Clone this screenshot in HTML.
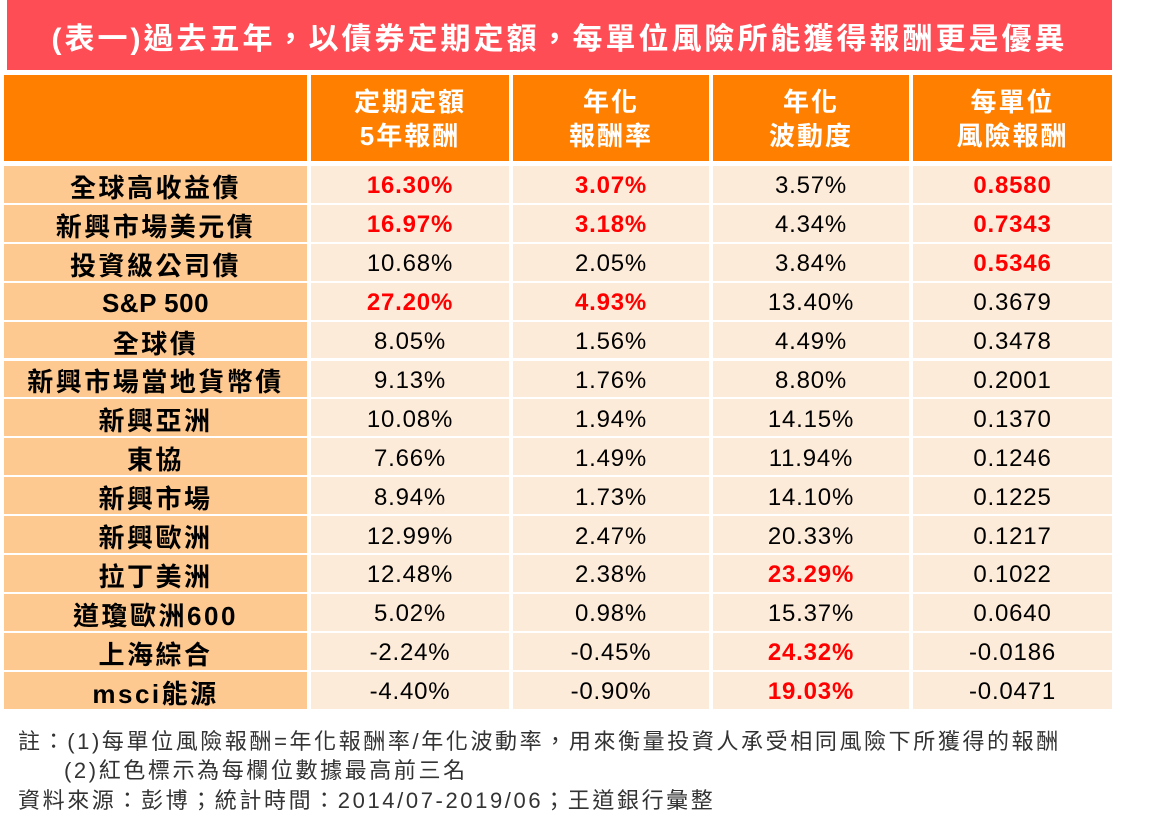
<!DOCTYPE html>
<html><head><meta charset="utf-8"><style>
body{margin:0;width:1160px;height:826px;background:#fff;position:relative;overflow:hidden;font-family:"Liberation Sans","Noto Sans CJK TC",sans-serif;}
.a{position:absolute;display:flex;align-items:center;justify-content:center;box-sizing:border-box;}
.t{left:7px;top:0;width:1105px;height:70px;background:#ff4d55;color:#fff;font-size:30px;letter-spacing:3px;font-weight:bold;padding-top:2px;}
.h{top:75px;height:86px;background:#ff8000;color:#fff;font-size:26px;letter-spacing:2px;font-weight:bold;text-align:center;line-height:34px;padding-top:2px;}
.l{background:#fdc991;font-size:26px;letter-spacing:2.5px;font-weight:bold;color:#000;padding-top:4px;}
.l.e{letter-spacing:0.5px;}
.d{background:#fdebd9;font-size:24px;letter-spacing:0.8px;color:#000;padding-top:4px;}
.r{color:#f00;font-weight:bold;}
.n{position:absolute;left:18px;font-size:22px;letter-spacing:2.6px;color:#333;white-space:nowrap;}
</style></head><body>
<div class="a t">(表一)過去五年，以債券定期定額，每單位風險所能獲得報酬更是優異</div>
<div class="a h" style="left:4px;width:303px"></div>
<div class="a h" style="left:311px;width:198px">定期定額<br>5年報酬</div>
<div class="a h" style="left:513px;width:196px">年化<br>報酬率</div>
<div class="a h" style="left:713px;width:196px">年化<br>波動度</div>
<div class="a h" style="left:913px;width:199px">每單位<br>風險報酬</div>
<div id="rows"></div>
<div class="n" style="top:724px">註：(1)每單位風險報酬=年化報酬率/年化波動率，用來衡量投資人承受相同風險下所獲得的報酬</div>
<div class="n" style="top:753px;left:64px">(2)紅色標示為每欄位數據最高前三名</div>
<div class="n" style="top:783px">資料來源：彭博；統計時間：2014/07-2019/06；王道銀行彙整</div>
<script>
var d=[["全球高收益債","16.30%*","3.07%*","3.57%","0.8580*"],
["新興市場美元債","16.97%*","3.18%*","4.34%","0.7343*"],
["投資級公司債","10.68%","2.05%","3.84%","0.5346*"],
["S&amp;P 500","27.20%*","4.93%*","13.40%","0.3679"],
["全球債","8.05%","1.56%","4.49%","0.3478"],
["新興市場當地貨幣債","9.13%","1.76%","8.80%","0.2001"],
["新興亞洲","10.08%","1.94%","14.15%","0.1370"],
["東協","7.66%","1.49%","11.94%","0.1246"],
["新興市場","8.94%","1.73%","14.10%","0.1225"],
["新興歐洲","12.99%","2.47%","20.33%","0.1217"],
["拉丁美洲","12.48%","2.38%","23.29%*","0.1022"],
["道瓊歐洲600","5.02%","0.98%","15.37%","0.0640"],
["上海綜合","-2.24%","-0.45%","24.32%*","-0.0186"],
["msci能源","-4.40%","-0.90%","19.03%*","-0.0471"]];
var cols=[[4,303],[311,198],[513,196],[713,196],[913,199]];
var h="";
for(var i=0;i<d.length;i++){var yy=166+i*38.9;
for(var j=0;j<5;j++){var v=d[i][j],red=v.slice(-1)=="*";if(red)v=v.slice(0,-1);
var e=(j==0&&(i==3))?' e':'';
h+='<div class="a '+(j==0?'l':'d')+e+(red?' r':'')+'" style="left:'+cols[j][0]+'px;width:'+cols[j][1]+'px;top:'+yy+'px;height:36.9px">'+v+'</div>';}}
document.getElementById("rows").innerHTML=h;
</script>
</body></html>
